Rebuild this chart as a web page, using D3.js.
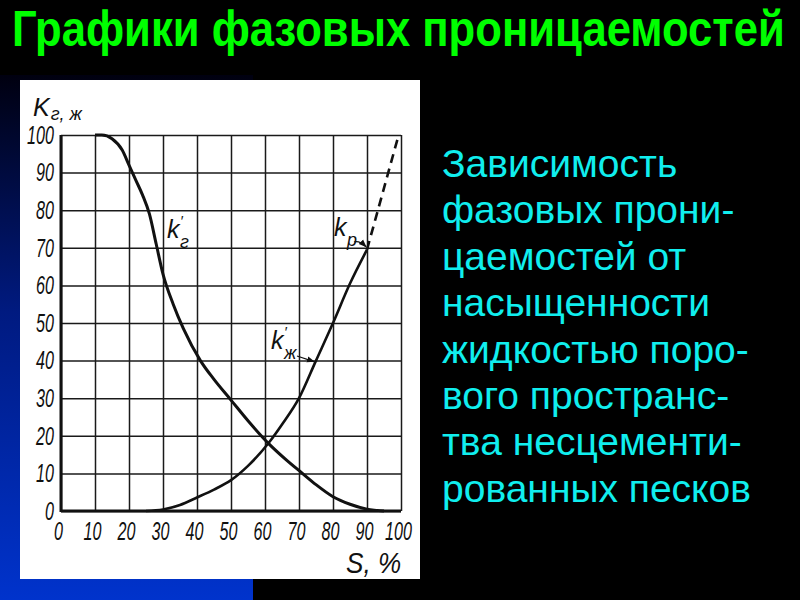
<!DOCTYPE html>
<html><head><meta charset="utf-8">
<script src="https://cdn.jsdelivr.net/npm/d3@7"></script>
<style>html,body{margin:0;padding:0;background:#000;}</style>
</head><body>
<script>
// ---- data ----
const titleText = "Графики фазовых проницаемостей";
const captionLines = ["Зависимость","фазовых прони-","цаемостей от","насыщенности","жидкостью поро-","вого пространс-","тва несцементи-","рованных песков"];
const xTickValues = [0,10,20,30,40,50,60,70,80,90,100];
const xTickLabels = ["0","10","20","30","40","50","60","70","80","90","100"];
const yTickValues = [0,10,20,30,40,50,60,70,80,90,100];
const yTickLabels = ["0","10","20","30","40","50","60","70","80","90","100"];
// gas phase permeability k'г
const gasS = [10, 12, 15, 18, 20, 22, 24, 26, 28, 30, 33, 36, 41, 45, 50, 55, 61, 66, 71, 75, 80, 85, 90, 95];
const gasK = [100, 100, 99, 96, 92, 88, 84, 79, 71, 63, 55, 48.5, 40, 35, 29.5, 24, 18, 13.8, 10, 7, 3.8, 1.8, 0.5, 0];
// liquid phase permeability k'ж
const liqS = [25, 30, 35, 40, 45, 50, 55, 61, 65, 70, 75, 80, 85, 90];
const liqK = [0, 0.4, 1.6, 3.6, 5.7, 8.2, 12, 18, 23, 30, 40, 50, 60.5, 69.5];
// dashed continuation beyond kр
const dashS = [90, 99];
const dashK = [69.5, 99];

const W = 800, H = 600;
const FONT = "'Liberation Sans', Arial, sans-serif";
const svg = d3.select("body").append("svg").attr("width", W).attr("height", H);
svg.append("rect").attr("width", W).attr("height", H).attr("fill", "#000");

const defs = svg.append("defs");
const grad = defs.append("linearGradient").attr("id","bluegrad").attr("x1",0).attr("y1",0).attr("x2",0).attr("y2",1);
grad.append("stop").attr("offset","0%").attr("stop-color","#000010");
grad.append("stop").attr("offset","45%").attr("stop-color","#001a80");
grad.append("stop").attr("offset","100%").attr("stop-color","#0033cc");
defs.append("marker").attr("id","arr").attr("viewBox","0 0 10 10").attr("refX",9).attr("refY",5)
  .attr("markerWidth",6).attr("markerHeight",6).attr("orient","auto")
  .append("path").attr("d","M0,1 L10,5 L0,9 Z").attr("fill","#111");

svg.append("rect").attr("x",0).attr("y",75).attr("width",253).attr("height",525).attr("fill","url(#bluegrad)");
svg.append("rect").attr("x",20).attr("y",80).attr("width",400).attr("height",499).attr("fill","#fff");

// title (condensed by horizontal scaling to fit)
const title = svg.append("text").attr("x",0).attr("y",0).text(titleText)
  .attr("font-family",FONT).attr("font-weight","bold")
  .attr("font-size",50).attr("fill","#00ff00");
const tw = title.node().getComputedTextLength();
title.attr("transform",`translate(12,46) scale(${773/tw},1)`);

// caption
const cap = svg.append("g").attr("font-family",FONT)
  .attr("font-size",39).attr("fill","#10eeee");
captionLines.forEach((t,i)=>{
  cap.append("text").attr("x",442).attr("y",177+46.4*i).text(t);
});

// scales
const x = d3.scaleLinear().domain([0,100]).range([61,401]);
const y = d3.scaleLinear().domain([0,100]).range([511,135]);
const plotH = y(0)-y(100), plotW = x(100)-x(0);
const sx = 0.62;

const gx = svg.append("g").attr("transform",`translate(0,${y(0)})`)
  .call(d3.axisBottom(x).tickValues(xTickValues).tickFormat((d,i)=>xTickLabels[i])
    .tickSize(-plotH).tickPadding(11));
gx.select(".domain").remove();
gx.selectAll(".tick line").attr("stroke","#1a1a1a").attr("stroke-width",1.5);
gx.selectAll(".tick text").attr("font-family",FONT)
  .attr("font-style","italic").attr("font-size",26).attr("fill","#111")
  .attr("transform",`translate(-3,0) scale(${sx},1)`).attr("x",0);

const gy = svg.append("g").attr("transform",`translate(${x(0)},0)`)
  .call(d3.axisLeft(y).tickValues(yTickValues).tickFormat((d,i)=>yTickLabels[i])
    .tickSize(-plotW).tickPadding(6));
gy.select(".domain").remove();
gy.selectAll(".tick line").attr("stroke","#1a1a1a").attr("stroke-width",1.5);
gy.selectAll(".tick text").attr("font-family",FONT)
  .attr("font-style","italic").attr("font-size",26).attr("fill","#111")
  .attr("transform",`scale(${sx},1)`).attr("x",-7/sx);

// thick axes
svg.append("line").attr("x1",x(0)).attr("x2",x(0)).attr("y1",y(0)+1).attr("y2",y(100))
  .attr("stroke","#111").attr("stroke-width",3);
svg.append("line").attr("x1",x(0)).attr("x2",x(100)).attr("y1",y(0)).attr("y2",y(0))
  .attr("stroke","#111").attr("stroke-width",3);

// curves
const line = d3.line().x(d=>x(d[0])).y(d=>y(d[1])).curve(d3.curveMonotoneX);
svg.append("path").datum(gasS.map((s,i)=>[s,gasK[i]])).attr("d",line)
  .attr("fill","none").attr("stroke","#111").attr("stroke-width",3);
svg.append("path").datum(liqS.map((s,i)=>[s,liqK[i]])).attr("d",line)
  .attr("fill","none").attr("stroke","#111").attr("stroke-width",2.6);
svg.append("path").datum(dashS.map((s,i)=>[s,dashK[i]])).attr("d",d3.line().x(d=>x(d[0])).y(d=>y(d[1])))
  .attr("fill","none").attr("stroke","#111").attr("stroke-width",2.6).attr("stroke-dasharray","9,6");

// curve labels: separate, non-overlapping pieces
const lab = svg.append("g").attr("font-family",FONT)
  .attr("font-style","italic").attr("fill","#111");
function klabel(xp, yp, sub, prime){
  lab.append("text").attr("x",xp).attr("y",yp).attr("font-size",25).text("k");
  if(prime) lab.append("text").attr("x",xp+13).attr("y",yp-12).attr("font-size",15).text("′");
  lab.append("text").attr("x",xp+13).attr("y",yp+10).attr("font-size",18).text(sub);
}
klabel(167, 238, "г", true);
klabel(334, 236, "p", false);
klabel(271, 349, "ж", true);
// arrows
svg.append("path").attr("d",`M354,242 Q359,240 ${x(90)-1},${y(69.5)-3}`).attr("fill","none")
  .attr("stroke","#111").attr("stroke-width",1.3).attr("marker-end","url(#arr)");
svg.append("path").attr("d",`M297,356 L${x(74.7)-1},${y(40)+1}`).attr("fill","none")
  .attr("stroke","#111").attr("stroke-width",1.3).attr("marker-end","url(#arr)");

// axis titles
const at = svg.append("g").attr("font-family",FONT)
  .attr("font-style","italic").attr("fill","#111");
const yt = at.append("text").attr("x",33).attr("y",116);
yt.append("tspan").attr("font-size",25).text("K");
yt.append("tspan").attr("font-size",18).attr("dx",1).attr("dy",4).text("г, ж");
at.append("text").attr("x",346).attr("y",573).attr("font-size",29).text("S, %")
  .attr("transform","translate(346,0) scale(0.9,1) translate(-346,0)");
</script>
</body></html>
